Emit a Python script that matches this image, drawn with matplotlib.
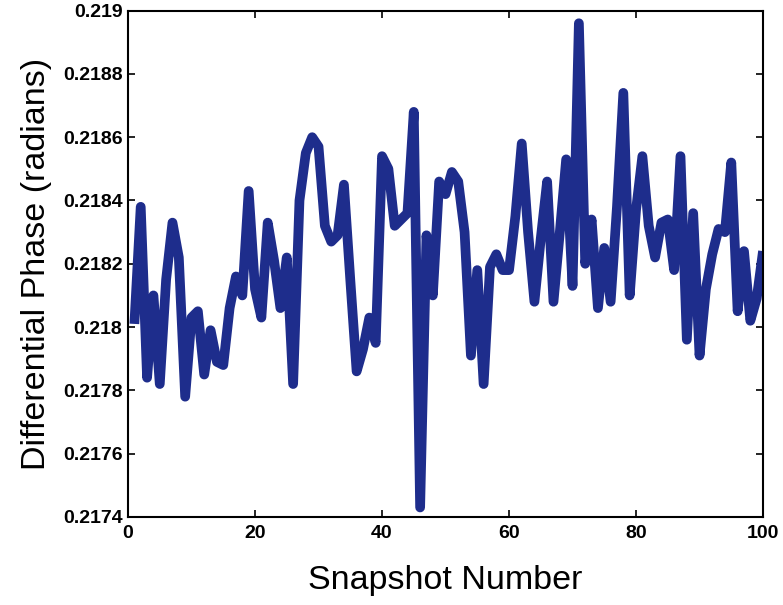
import matplotlib
matplotlib.use("Agg")
import matplotlib.pyplot as plt
import numpy as np

snapshot = list(range(1, 101))
phase = [
    0.21801, 0.21838, 0.21784, 0.21810, 0.21782, 0.21815, 0.21833, 0.21822, 0.21778, 0.21803,
    0.21805, 0.21785, 0.21799, 0.21789, 0.21788, 0.21806, 0.21816, 0.21810, 0.21843, 0.21812,
    0.21803, 0.21833, 0.21821, 0.21806, 0.21822, 0.21782, 0.21840, 0.21855, 0.21860, 0.21857,
    0.21832, 0.21827, 0.21829, 0.21845, 0.21815, 0.21786, 0.21793, 0.21803, 0.21795, 0.21854,
    0.21850, 0.21832, 0.21834, 0.21836, 0.21868, 0.21743, 0.21829, 0.21810, 0.21846, 0.21842,
    0.21849, 0.21846, 0.21830, 0.21791, 0.21818, 0.21782, 0.21819, 0.21823, 0.21818, 0.21818,
    0.21835, 0.21858, 0.21830, 0.21808, 0.21828, 0.21846, 0.21808, 0.21830, 0.21853, 0.21813,
    0.21896, 0.21820, 0.21834, 0.21806, 0.21825, 0.21808, 0.21838, 0.21874, 0.21810, 0.21837,
    0.21854, 0.21832, 0.21822, 0.21833, 0.21834, 0.21818, 0.21854, 0.21796, 0.21836, 0.21791,
    0.21812, 0.21823, 0.21831, 0.21830, 0.21852, 0.21805, 0.21824, 0.21802, 0.21809, 0.21824,
]
xticks = [0, 20, 40, 60, 80, 100]
yticks = [0.2174, 0.2176, 0.2178, 0.2180, 0.2182, 0.2184, 0.2186, 0.2188, 0.2190]
ytick_labels = ["0.2174", "0.2176", "0.2178", "0.218", "0.2182", "0.2184", "0.2186", "0.2188", "0.219"]

plt.rcParams['font.family'] = ['Liberation Sans', 'DejaVu Sans']

fig = plt.figure(figsize=(7.83, 6.05), dpi=100)
ax = fig.add_axes([0.1635, 0.1455, 0.811, 0.837])
ax.plot(snapshot, phase, color='#1e2d8c', linewidth=7, solid_joinstyle='round',
        solid_capstyle='butt')
ax.set_xlim(0, 100)
ax.set_ylim(0.2174, 0.2190)
ax.set_xticks(xticks)
ax.set_xticklabels([str(t) for t in xticks])
ax.set_yticks(yticks)
ax.set_yticklabels(ytick_labels)
ax.tick_params(direction='in', length=5, width=1.2, top=True, right=True,
               labelsize=14, pad=4)
ax.tick_params(axis='x', pad=6)
for lab in ax.get_xticklabels() + ax.get_yticklabels():
    lab.set_fontweight('bold')
for s in ax.spines.values():
    s.set_linewidth(1.5)
ax.set_xlabel('Snapshot Number', fontsize=24.5, labelpad=16)
ax.set_ylabel('Differential Phase (radians)', fontsize=24.5, labelpad=8)

fig.savefig('out.png', dpi=100)
